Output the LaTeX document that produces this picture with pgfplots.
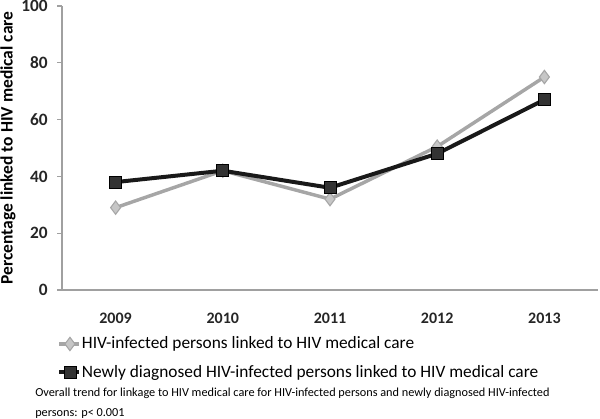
\documentclass[border=0pt]{standalone}
\usepackage{pgfplots}
\pgfplotsset{compat=1.18}
\usepackage{fontspec}
\setmainfont{Carlito}
\definecolor{lgray}{HTML}{A6A6A6}
\definecolor{axgray}{HTML}{A0A0A0}
\begin{document}
\begin{tikzpicture}
\begin{axis}[
  name=ax,
  scale only axis,
  width=402pt, height=213pt,
  xmin=-0.5, xmax=4.5,
  ymin=0, ymax=100,
  xtick={0,1,2,3,4},
  xticklabels={2009,2010,2011,2012,2013},
  major x tick style={draw=none},
  extra x ticks={-0.5,0.5,1.5,2.5,3.5,4.5},
  extra x tick labels={},
  extra x tick style={tick align=outside, major tick length=3.5pt, tick style={axgray, line width=0.8pt}},
  ytick={0,20,40,60,80,100},
  tick align=outside,
  major tick length=3.5pt,
  major y tick style={axgray, line width=0.8pt},
  axis x line*=bottom,
  axis y line*=left,
  axis line style={axgray, line width=1pt, -},
  x tick label style={font=\fontsize{12}{13}\selectfont\bfseries, text=black!85, anchor=center, inner sep=0pt, yshift=-18pt},
  y tick label style={font=\fontsize{13}{14}\selectfont\bfseries, text=black!85, anchor=east, inner sep=0pt, xshift=-7pt},
  /pgf/number format/assume math mode=true,
  ylabel={Percentage linked to HIV medical care},
  ylabel style={font=\fontsize{13.1}{14}\selectfont\bfseries, at={(axis description cs:-0.1007,0.5)}, anchor=center, inner sep=0pt},
  legend style={at={(rel axis cs:-0.0093,-0.162)}, anchor=north west, draw=none, fill=none,
    font=\fontsize{13}{15}\selectfont, row sep=9.5pt, inner sep=0pt, nodes={inner sep=0.5pt}},
  legend cell align=left,
  legend image code/.code={\draw[#1] (0pt,0pt) -- (15pt,0pt); \draw[#1,mark repeat=1] plot coordinates {(8pt,0pt)};},
  clip=false,
]
\addplot[lgray, line width=2.6pt, mark=diamond*, mark size=5pt,
  mark options={fill=gray!45, draw=lgray, line width=0.8pt}] coordinates {
  (0,29) (1,42) (2,32) (3,50.5) (4,75)
};
\addlegendentry{HIV-infected persons linked to HIV medical care}
\addplot[black!90, line width=3pt, mark=square*, mark size=4.5pt,
  mark options={fill=black!80, draw=black, line width=0.6pt}] coordinates {
  (0,38) (1,42) (2,36) (3,48) (4,67)
};
\addlegendentry{Newly diagnosed HIV-infected persons linked to HIV medical care}
\node[anchor=north west, align=left, inner sep=0pt, font=\fontsize{9.2}{15}\selectfont]
  at (rel axis cs:-0.0504,-0.345)
  {Overall trend for linkage to HIV medical care for HIV-infected persons and newly diagnosed HIV-infected\\persons: p< 0.001};
\end{axis}
\pgfresetboundingbox
\path ([shift={(-46.5pt,-96pt)}]ax.south west) rectangle ([shift={(1.5pt,4.5pt)}]ax.north east);
\end{tikzpicture}
\end{document}
